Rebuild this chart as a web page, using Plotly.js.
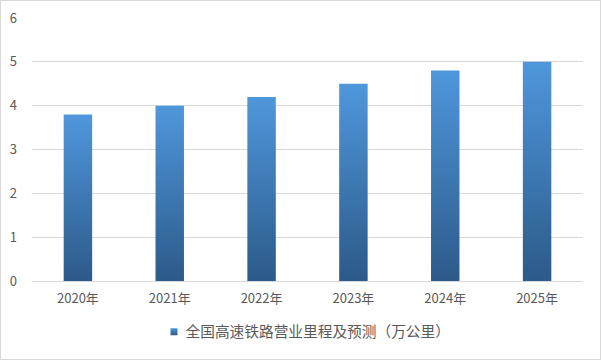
<!DOCTYPE html>
<html><head><meta charset="utf-8">
<script src="https://cdn.plot.ly/plotly-3.0.1.min.js"></script>
<style>html,body{margin:0;padding:0;background:#fff}#c{width:601px;height:360px;box-sizing:border-box;border:1px solid #d9d9d9}</style>
</head><body><div id="c"></div>
<script>
const categories = ["2020年","2021年","2022年","2023年","2024年","2025年"];
const values = [3.8, 4.0, 4.2, 4.5, 4.8, 5.0];
const seriesName = "全国高速铁路营业里程及预测（万公里）";
const font = "'Noto Sans CJK SC', 'Microsoft YaHei', sans-serif";
const trace = {type:"bar", x:categories, y:values, name:seriesName, marker:{color:"#3d79b8"}, showlegend:true};
const layout = {
  width:599, height:358,
  margin:{l:31, r:17, t:17, b:78, autoexpand:false},
  paper_bgcolor:"#fff", plot_bgcolor:"#fff",
  bargap:0.69,
  font:{family:font, size:13, color:"#595959"},
  xaxis:{type:"category", showgrid:false, showline:true, linecolor:"#d9d9d9", linewidth:1, ticks:"", tickfont:{size:13, color:"#595959"}, ticklabelstandoff:5, automargin:false},
  yaxis:{range:[0,6], dtick:1, showgrid:true, gridcolor:"#d9d9d9", zeroline:false, showline:false, ticks:"", tickfont:{size:13, color:"#595959"}, ticklabelstandoff:14, automargin:false},
  showlegend:true,
  legend:{orientation:"h", x:0.5, xanchor:"center", xref:"container", yref:"container", y:0.075, yanchor:"middle", itemwidth:30, font:{size:14.7, color:"#595959"}}
};
Plotly.newPlot("c", [trace], layout, {displayModeBar:false, staticPlot:true}).then(function(gd){
  const svg = gd.querySelector("svg.main-svg");
  const ns = "http://www.w3.org/2000/svg";
  let defs = svg.querySelector("defs");
  const lg = document.createElementNS(ns,"linearGradient");
  lg.setAttribute("id","bargrad"); lg.setAttribute("x1","0"); lg.setAttribute("y1","0"); lg.setAttribute("x2","0"); lg.setAttribute("y2","1");
  [["0","#4f97dc"],["1","#2c5a89"]].forEach(function(s){const st=document.createElementNS(ns,"stop");st.setAttribute("offset",s[0]);st.setAttribute("stop-color",s[1]);lg.appendChild(st);});
  defs.appendChild(lg);
  gd.querySelectorAll(".bars .point path").forEach(function(p){p.style.fill="url(#bargrad)";});
  gd.querySelectorAll(".legend .legendpoints path").forEach(function(p){p.setAttribute("d","M12,3.5H5V-3.5H12Z");p.style.fill="url(#bargrad)";p.style.stroke="none";});
});
</script></body></html>
